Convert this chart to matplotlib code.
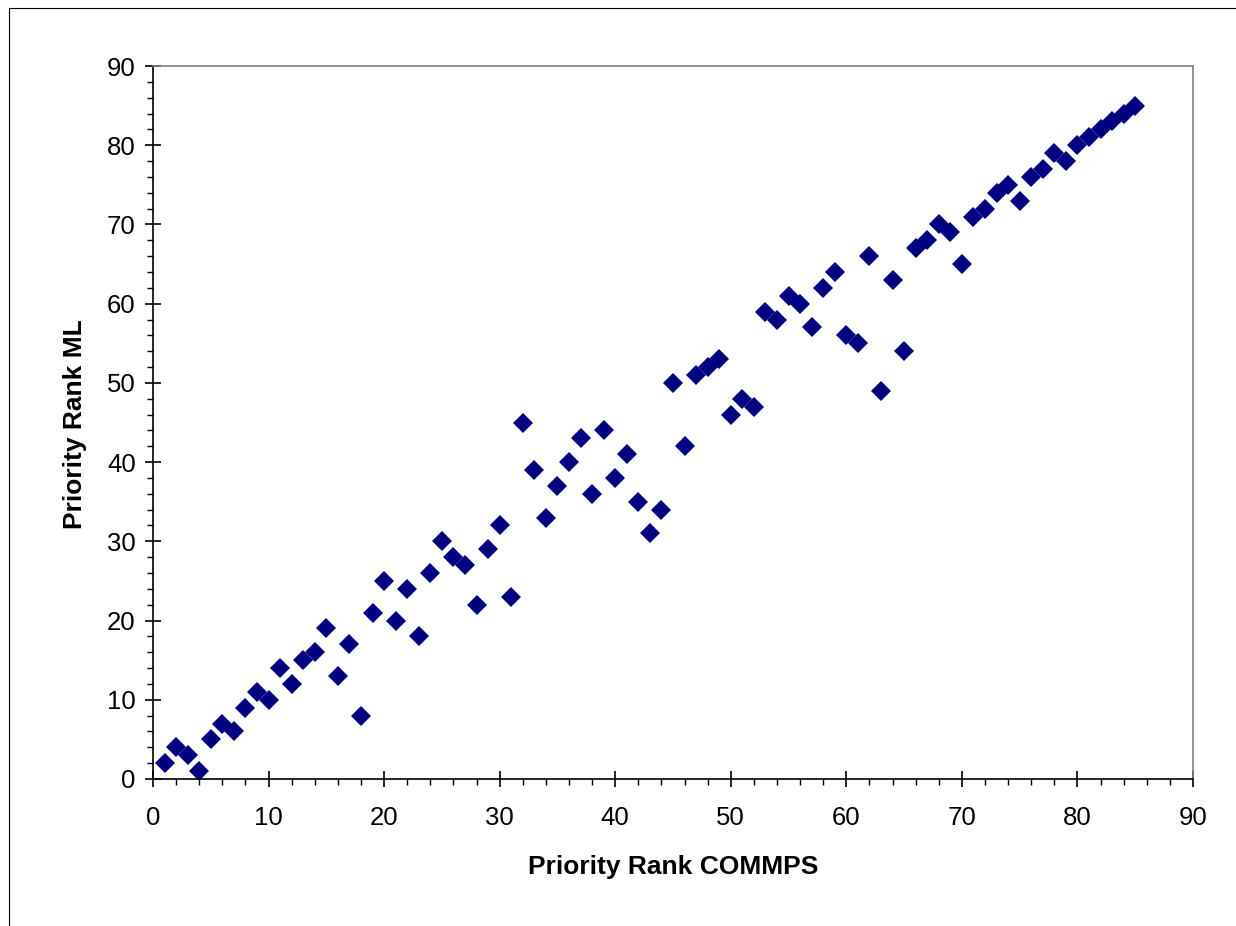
import matplotlib
matplotlib.use("Agg")
import matplotlib.pyplot as plt
import matplotlib.ticker as ticker
from matplotlib.patches import Rectangle

plt.rcParams['font.family'] = ['Liberation Sans', 'DejaVu Sans']

# priority ranks
rank_commps = list(range(1, 86))
rank_ml = [2, 4, 3, 1, 5, 7, 6, 9, 11, 10,
           14, 12, 15, 16, 19, 13, 17, 8, 21, 25,
           20, 24, 18, 26, 30, 28, 27, 22, 29, 32,
           23, 45, 39, 33, 37, 40, 43, 36, 44, 38,
           41, 35, 31, 34, 50, 42, 51, 52, 53, 46,
           48, 47, 59, 58, 61, 60, 57, 62, 64, 56,
           55, 66, 49, 63, 54, 67, 68, 70, 69, 65,
           71, 72, 74, 75, 73, 76, 77, 79, 78, 80,
           81, 82, 83, 84, 85]
x_ticks = [0, 10, 20, 30, 40, 50, 60, 70, 80, 90]
y_ticks = [0, 10, 20, 30, 40, 50, 60, 70, 80, 90]

W, H = 1236, 926
fig = plt.figure(figsize=(W / 100, H / 100), dpi=100)
fig.set_facecolor('white')

# outer chart frame (cut off at right/bottom)
fig.patches.append(Rectangle((8.5 / W, -0.1), 1.2, 1 - 8.5 / H + 0.1,
                             transform=fig.transFigure, fill=False,
                             edgecolor='black', linewidth=0.8))

ax = fig.add_axes([153 / W, 1 - 779 / H, (1193 - 153) / W, (779 - 66) / H])
ax.plot(rank_commps, rank_ml, linestyle='none', marker='D', markersize=10,
        color='#000080', markeredgewidth=0)

ax.set_xlim(0, 90)
ax.set_ylim(0, 90)
ax.set_xticks(x_ticks)
ax.set_yticks(y_ticks)
ax.xaxis.set_minor_locator(ticker.MultipleLocator(2))
ax.yaxis.set_minor_locator(ticker.MultipleLocator(2))
ax.tick_params(which='major', direction='inout', length=11, width=1.2,
               labelsize=18.5, color='black')
ax.tick_params(which='minor', direction='out', length=4.5, width=1.0, color='black')
ax.tick_params(axis='x', which='major', pad=14)
ax.tick_params(axis='y', which='major', pad=7)

for side in ['top', 'right']:
    ax.spines[side].set_color('#808080')
    ax.spines[side].set_linewidth(1.2)
for side in ['left', 'bottom']:
    ax.spines[side].set_color('black')
    ax.spines[side].set_linewidth(1.2)

# axis titles placed like the original chart
fig.text(673 / W, 1 - 867 / H, "Priority Rank COMMPS", fontsize=19, fontweight='bold',
         ha='center', va='center')
fig.text(75 / W, 1 - 424 / H, "Priority Rank ML", fontsize=19, fontweight='bold',
         ha='center', va='center', rotation=90)

fig.savefig("out.png", dpi=100, facecolor='white')
